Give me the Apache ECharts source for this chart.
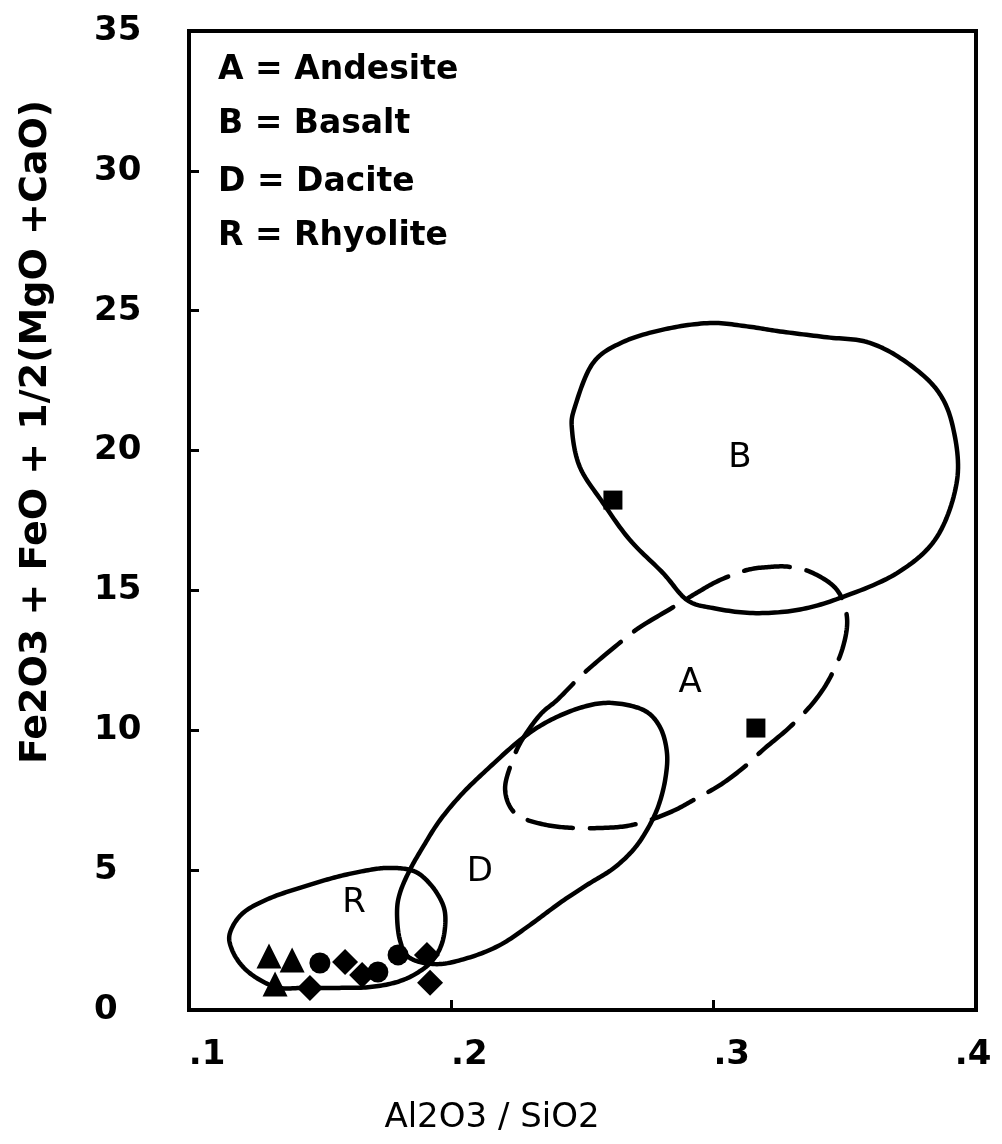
<!DOCTYPE html>
<html>
<head>
<meta charset="utf-8">
<script src="https://cdn.jsdelivr.net/npm/echarts@6/dist/echarts.min.js"></script>
<style>
  html, body { margin: 0; padding: 0; background: #fff; }
  #chart { width: 1002px; height: 1144px; }
</style>
</head>
<body>
<div id="chart"></div>
<script>
// Axis ticks and their labels
const xTickValues = [0.1, 0.2, 0.3, 0.4];
const xTickLabels = ['.1', '.2', '.3', '.4'];
const yTickValues = [0, 5, 10, 15, 20, 25, 30, 35];
const yTickLabels = ['0', '5', '10', '15', '20', '25', '30', '35'];

const xTitle = 'Al2O3 / SiO2';
const yTitle = 'Fe2O3 + FeO + 1/2(MgO +CaO)';

// Key for the rock-type fields
const keyLines = ['A = Andesite', 'B = Basalt', 'D = Dacite', 'R = Rhyolite'];

// Field outlines (closed loops), [Al2O3/SiO2, Fe2O3+FeO+1/2(MgO+CaO)]
const basaltField = [
  [0.2986, 24.56], [0.3127, 24.44], [0.3253, 24.26], [0.3432, 24.05], [0.3585, 23.88],
  [0.3722, 23.24], [0.3851, 22.17], [0.3912, 20.84], [0.3928, 18.95], [0.3851, 16.91],
  [0.3699, 15.62], [0.3482, 14.73], [0.3318, 14.30], [0.3150, 14.19], [0.2997, 14.37],
  [0.2898, 14.66], [0.2807, 15.62], [0.2681, 16.80], [0.2578, 18.13], [0.2490, 19.41],
  [0.2460, 20.74], [0.2471, 21.56], [0.2540, 23.13], [0.2654, 23.88], [0.2815, 24.34]
];
const andesiteField = [
  [0.2338, 10.55], [0.2403, 11.08], [0.2479, 11.80], [0.2540, 12.33], [0.2670, 13.34],
  [0.2731, 13.76], [0.2860, 14.48], [0.2940, 14.94], [0.3024, 15.37], [0.3127, 15.73],
  [0.3215, 15.84], [0.3291, 15.84], [0.3379, 15.62], [0.3470, 15.02], [0.3508, 14.05],
  [0.3493, 12.98], [0.3443, 11.87], [0.3379, 10.98], [0.3291, 10.12], [0.3188, 9.30],
  [0.3112, 8.65], [0.3024, 8.04], [0.2937, 7.58], [0.2853, 7.15], [0.2757, 6.79],
  [0.2670, 6.58], [0.2578, 6.51], [0.2464, 6.51], [0.2365, 6.61], [0.2273, 6.86],
  [0.2224, 7.26], [0.2205, 7.97], [0.2231, 8.87], [0.2269, 9.65]
];
const daciteField = [
  [0.2605, 10.98], [0.2731, 10.73], [0.2795, 10.12], [0.2822, 9.19], [0.2815, 8.22],
  [0.2788, 7.26], [0.2746, 6.44], [0.2693, 5.72], [0.2616, 5.05], [0.2517, 4.47],
  [0.2414, 3.83], [0.2300, 3.04], [0.2185, 2.32], [0.2063, 1.86], [0.1945, 1.64],
  [0.1842, 1.86], [0.1804, 2.50], [0.1793, 3.47], [0.1804, 4.18], [0.1842, 5.01],
  [0.1892, 5.83], [0.1957, 6.79], [0.2044, 7.76], [0.2147, 8.69], [0.2262, 9.65],
  [0.2365, 10.30], [0.2490, 10.80]
];
const rhyoliteField = [
  [0.1766, 5.08], [0.1842, 5.01], [0.1892, 4.76], [0.1945, 4.18], [0.1976, 3.47],
  [0.1968, 2.50], [0.1930, 1.79], [0.1869, 1.32], [0.1793, 1.00], [0.1690, 0.82],
  [0.1564, 0.79], [0.1435, 0.79], [0.1347, 0.79], [0.1271, 1.07], [0.1206, 1.54],
  [0.1164, 2.15], [0.1156, 2.75], [0.1206, 3.47], [0.1309, 4.00], [0.1435, 4.40],
  [0.1564, 4.76], [0.1690, 5.01]
];

// Field letters and where they sit
const fieldNames = ['B', 'A', 'D', 'R'];
const fieldNameX = [0.3100, 0.2910, 0.2109, 0.1629];
const fieldNameY = [19.74, 11.69, 4.93, 3.83];

// Sample points
const triangleSamples = [[0.1305, 1.93], [0.1393, 1.79], [0.1328, 0.93]];
const circleSamples = [[0.1499, 1.68], [0.1720, 1.36], [0.1797, 1.97]];
const diamondSamples = [[0.1595, 1.72], [0.1461, 0.79], [0.1907, 1.97], [0.1919, 0.97], [0.1660, 1.25]];
const squareSamples = [[0.2616, 18.23], [0.3161, 10.08]];

const FONT = '"DejaVu Sans", "Liberation Sans", sans-serif';
const INK = '#000';

// Closed Catmull-Rom curve through pixel points
function closedSpline(pts, steps) {
  const n = pts.length;
  const out = [];
  for (let i = 0; i < n; i++) {
    const p0 = pts[(i - 1 + n) % n], p1 = pts[i], p2 = pts[(i + 1) % n], p3 = pts[(i + 2) % n];
    for (let s = 0; s < steps; s++) {
      const t = s / steps, t2 = t * t, t3 = t2 * t;
      const f = k => 0.5 * (2 * p1[k] + (-p0[k] + p2[k]) * t +
        (2 * p0[k] - 5 * p1[k] + 4 * p2[k] - p3[k]) * t2 +
        (-p0[k] + 3 * p1[k] - 3 * p2[k] + p3[k]) * t3);
      out.push([f(0), f(1)]);
    }
  }
  out.push(out[0]);
  return out;
}

function outline(data, dashed) {
  return {
    type: 'custom',
    coordinateSystem: 'cartesian2d',
    data: data,
    silent: true,
    z: 2,
    renderItem: function (params, api) {
      if (params.dataIndexInside !== 0) return null;
      const pts = [];
      for (let i = 0; i < params.dataInsideLength; i++) {
        pts.push(api.coord([api.value(0, i), api.value(1, i)]));
      }
      return {
        type: 'polyline',
        shape: { points: closedSpline(pts, 14) },
        style: {
          fill: 'none', stroke: INK, lineWidth: 4.5,
          lineDash: dashed ? [46, 17] : null,
          lineCap: 'round', lineJoin: 'round'
        }
      };
    }
  };
}

function samples(data, symbol, size) {
  return {
    type: 'scatter',
    data: data,
    symbol: symbol,
    symbolSize: size,
    itemStyle: { color: INK, opacity: 1 },
    z: 4
  };
}

const tickFont = { color: INK, fontFamily: FONT, fontWeight: 'bold', fontSize: 34 };

const chart = echarts.init(document.getElementById('chart'));

chart.setOption({
  backgroundColor: '#fff',
  animation: false,
  grid: {
    left: 189, right: 26, top: 31, bottom: 134,
    outerBoundsMode: 'none',
    containLabel: false,
    show: true, borderColor: INK, borderWidth: 4, backgroundColor: 'transparent'
  },
  xAxis: {
    type: 'value',
    min: xTickValues[0],
    max: xTickValues[xTickValues.length - 1],
    interval: 0.1,
    axisLine: { lineStyle: { color: INK, width: 4 } },
    axisTick: { inside: true, length: 10, lineStyle: { color: INK, width: 3 } },
    splitLine: { show: false },
    axisLabel: Object.assign({
      margin: 28,
      formatter: function (v) {
        const i = xTickValues.findIndex(t => Math.abs(t - v) < 1e-6);
        if (i < 0) return '';
        // inner labels sit a little right of their tick, the last one on it
        return (i < xTickValues.length - 1 ? '{s|' : '{e|') + xTickLabels[i] + '}';
      },
      rich: {
        s: Object.assign({ padding: [0, 0, 0, 36] }, tickFont),
        e: Object.assign({ padding: [0, 6, 0, 0] }, tickFont)
      }
    }, tickFont)
  },
  yAxis: {
    type: 'value',
    min: yTickValues[0],
    max: yTickValues[yTickValues.length - 1],
    interval: 5,
    axisLine: { lineStyle: { color: INK, width: 4 } },
    axisTick: { inside: true, length: 10, lineStyle: { color: INK, width: 3 } },
    splitLine: { show: false },
    axisLabel: Object.assign({
      margin: 95,
      align: 'left',
      formatter: function (v) {
        const i = yTickValues.indexOf(Math.round(v));
        return i >= 0 ? yTickLabels[i] : '';
      }
    }, tickFont)
  },
  graphic: [
    {
      type: 'text', x: 36, y: 432, rotation: Math.PI / 2,
      style: { text: yTitle, fill: INK, font: 'bold 38px ' + FONT, align: 'center', verticalAlign: 'middle' }
    },
    {
      type: 'text', x: 492, y: 1118,
      style: { text: xTitle, fill: INK, font: '34px ' + FONT, align: 'center', verticalAlign: 'middle' }
    }
  ].concat(keyLines.map((t, i) => ({
    type: 'text', x: 218, y: [70, 124, 182, 236][i],
    style: { text: t, fill: INK, font: 'bold 33px ' + FONT, align: 'left', verticalAlign: 'middle' }
  }))),
  series: [
    outline(basaltField, false),
    outline(andesiteField, true),
    outline(daciteField, false),
    outline(rhyoliteField, false),
    {
      type: 'scatter',
      data: fieldNames.map((n, i) => ({ name: n, value: [fieldNameX[i], fieldNameY[i]] })),
      symbolSize: 2,
      itemStyle: { color: 'rgba(0,0,0,0)', opacity: 1 },
      silent: true,
      z: 3,
      label: {
        show: true, position: 'inside', formatter: '{b}',
        color: INK, opacity: 1, fontFamily: FONT, fontSize: 34
      }
    },
    samples(triangleSamples, 'triangle', 25),
    samples(circleSamples, 'circle', 21),
    samples(diamondSamples, 'diamond', 26),
    samples(squareSamples, 'rect', 19)
  ]
});
</script>
</body>
</html>
